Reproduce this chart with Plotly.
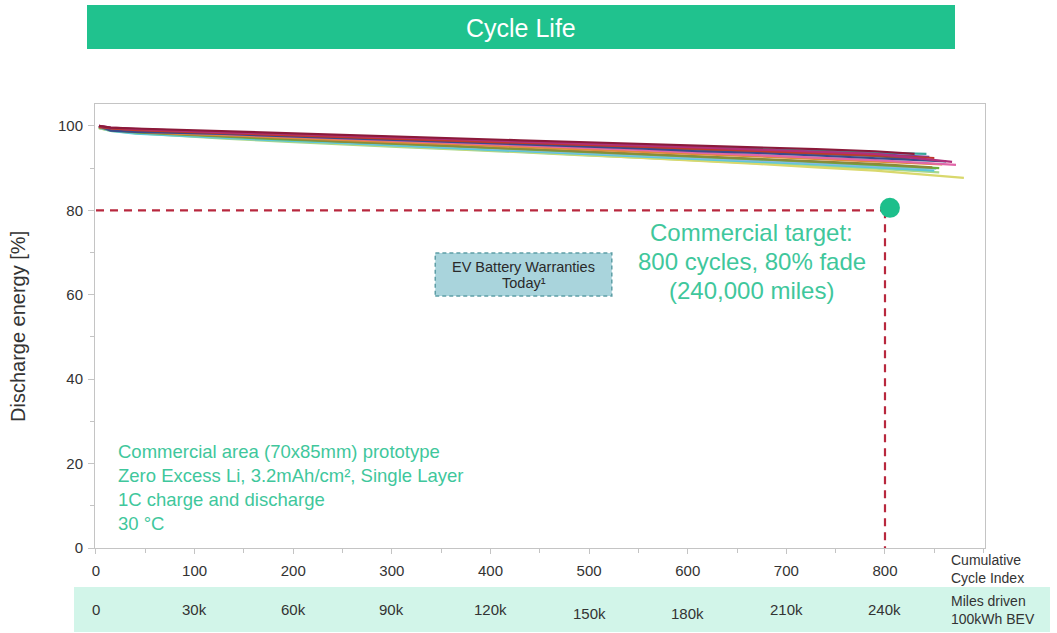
import plotly.graph_objects as go

# ---------------- data ----------------
cycle_grid = [3, 15, 40, 80, 130, 190, 250, 310, 370, 430, 490, 550, 610, 670, 730, 790]

cell_maroon = [100.0, 99.6, 99.4, 99.1, 98.8, 98.3, 97.9, 97.5, 97.0, 96.6, 96.2, 95.8, 95.3, 94.9, 94.5, 94.0, 93.4]
cell_purple = [100.0, 99.5, 99.2, 98.9, 98.5, 98.0, 97.6, 97.3, 96.7, 96.3, 95.8, 95.4, 94.9, 94.4, 93.9, 93.3, 92.7]
cell_navy = [100.0, 98.9, 98.6, 98.4, 98.1, 97.6, 97.1, 96.6, 96.2, 95.7, 95.2, 94.7, 94.0, 93.6, 93.0, 92.4, 91.6]
cell_red = [99.8, 99.4, 99.0, 98.7, 98.3, 97.8, 97.4, 96.9, 96.5, 96.1, 95.6, 95.1, 94.6, 94.1, 93.6, 93.1, 92.4]
cell_green = [99.7, 99.0, 98.5, 98.0, 97.5, 96.8, 96.3, 95.7, 95.1, 94.6, 94.0, 93.4, 92.7, 92.1, 91.5, 90.8, 90.0]
cell_cyan = [99.6, 98.8, 98.2, 97.7, 97.1, 96.5, 95.9, 95.2, 94.6, 94.0, 93.4, 92.8, 92.1, 91.5, 90.9, 90.2, 89.4]
cell_orange = [99.8, 99.2, 98.7, 98.2, 97.8, 97.2, 96.6, 96.1, 95.6, 95.0, 94.5, 93.9, 93.3, 92.8, 92.2, 91.6, 90.9]
cell_yellow = [99.5, 98.9, 98.4, 97.8, 97.2, 96.5, 95.8, 95.1, 94.5, 93.9, 93.2, 92.5, 91.8, 91.0, 90.2, 89.4, 87.7]
cell_pink = [99.9, 99.3, 98.9, 98.5, 98.0, 97.5, 97.0, 96.4, 95.9, 95.4, 94.9, 94.3, 93.7, 93.1, 92.5, 91.9, 90.8]
cell_teal = [99.9, 99.5, 99.2, 98.9, 98.5, 98.1, 97.6, 97.2, 96.7, 96.3, 95.9, 95.4, 95.0, 94.5, 94.1, 93.7, 93.4]
cell_olive = [99.7, 99.1, 98.6, 98.1, 97.6, 97.0, 96.3, 95.8, 95.2, 94.7, 94.1, 93.5, 92.9, 92.3, 91.7, 91.0, 90.2]
cell_lightblue = [99.6, 99.0, 98.5, 98.0, 97.4, 96.9, 96.3, 95.6, 95.0, 94.3, 93.7, 93.1, 92.4, 91.8, 91.2, 90.5, 89.9]
cell_gray = [99.8, 99.3, 98.9, 98.6, 98.2, 97.7, 97.3, 96.8, 96.3, 95.9, 95.4, 94.9, 94.4, 93.9, 93.4, 92.9, 92.3]
cell_brown = [99.9, 99.4, 99.1, 98.7, 98.3, 97.9, 97.4, 96.9, 96.5, 96.0, 95.5, 95.0, 94.5, 94.0, 93.5, 92.9, 92.2]
cell_magenta = [100.0, 99.6, 99.3, 98.9, 98.5, 98.1, 97.7, 97.2, 96.8, 96.3, 95.9, 95.4, 94.9, 94.4, 94.0, 93.4, 91.5]
cell_lightgreen = [99.5, 98.8, 98.3, 97.7, 97.0, 96.3, 95.6, 95.0, 94.4, 93.7, 93.1, 92.5, 91.8, 91.2, 90.5, 89.9, 89.0]

cell_names = ["lightgreen", "yellow", "cyan", "lightblue", "green", "olive", "orange", "gray",
              "teal", "pink", "brown", "navy", "purple", "red", "magenta", "maroon"]
cell_values = [cell_lightgreen, cell_yellow, cell_cyan, cell_lightblue, cell_green, cell_olive,
               cell_orange, cell_gray, cell_teal, cell_pink, cell_brown, cell_navy, cell_purple,
               cell_red, cell_magenta, cell_maroon]
end_cycles = [855, 880, 850, 852, 855, 848, 858, 836, 842, 872, 825, 862, 845, 850, 868, 830]
cell_colors = ["#A8D88A", "#D9D86C", "#5CC8D8", "#8AB8E0", "#6AAF3D", "#8A8A3A", "#E08A3C", "#8A8A8A",
               "#3AA59A", "#E066A8", "#8B5A3C", "#3A4A8C", "#7B3F9E", "#C0392B", "#B0307A", "#8B1A3A"]

target_cycles = 800
target_energy = 80

cycle_ticks = [0, 100, 200, 300, 400, 500, 600, 700, 800]
miles_labels = ["0", "30k", "60k", "90k", "120k", "150k", "180k", "210k", "240k"]

# ---------------- layout helpers ----------------
W, H = 1057, 633
PL, PR, PT, PB = 95, 72, 104, 85


def px_x(px):
    return (px - PL) / (W - PL - PR)


def px_y(py):
    return (H - PB - py) / (H - PT - PB)


FONT = "Liberation Sans, Arial, sans-serif"
GREEN_TXT = "#3FC79C"
DARK = "#333333"

fig = go.Figure()

for name, vals, endc, col in zip(cell_names, cell_values, end_cycles, cell_colors):
    fig.add_trace(go.Scatter(
        x=cycle_grid + [endc], y=vals, mode="lines", name=name,
        line=dict(color=col, width=2.2), showlegend=False, hoverinfo="skip"))

# dashed target lines
fig.add_trace(go.Scatter(x=[0, target_cycles], y=[target_energy, target_energy], mode="lines",
                         line=dict(color="#B8283E", width=2.2, dash="8px,6px"), showlegend=False))
fig.add_trace(go.Scatter(x=[target_cycles, target_cycles], y=[target_energy, 0], mode="lines",
                         line=dict(color="#B8283E", width=2.2, dash="8px,6px"), showlegend=False))
fig.add_trace(go.Scatter(x=[target_cycles + 5], y=[target_energy + 0.6], mode="markers",
                         marker=dict(color="#1DBF8B", size=20), showlegend=False))

shapes = [
    # title bar
    dict(type="rect", xref="paper", yref="paper", x0=px_x(87), x1=px_x(955), y0=px_y(49), y1=px_y(5),
         fillcolor="#20C28E", line=dict(width=0), layer="below"),
    # miles band
    dict(type="rect", xref="paper", yref="paper", x0=px_x(74), x1=px_x(1050), y0=px_y(632), y1=px_y(587),
         fillcolor="#D2F5E9", line=dict(width=0), layer="below"),
    # EV box
    dict(type="rect", xref="x", yref="y", x0=344, x1=523, y0=59.7, y1=69.9,
         fillcolor="#A9D4DC", line=dict(color="#5E9EA6", width=1.5, dash="4px,3px")),
]

annotations = [
    dict(text="Cycle Life", xref="paper", yref="paper", x=px_x(521), y=px_y(28), showarrow=False,
         font=dict(size=25, color="white", family=FONT), xanchor="center", yanchor="middle"),
    dict(text="Discharge energy [%]", xref="paper", yref="paper", x=px_x(18), y=px_y(327),
         showarrow=False, textangle=-90, font=dict(size=20, color=DARK, family=FONT),
         xanchor="center", yanchor="middle"),
    dict(text="EV Battery Warranties", xref="x", yref="paper", x=433.5, y=px_y(267), showarrow=False,
         font=dict(size=14.5, color="#2A2A2A", family=FONT), xanchor="center", yanchor="middle"),
    dict(text="Today¹", xref="x", yref="paper", x=433.5, y=px_y(283), showarrow=False,
         font=dict(size=14.5, color="#2A2A2A", family=FONT), xanchor="center", yanchor="middle"),
    dict(text="Cumulative", xref="paper", yref="paper", x=px_x(949), y=px_y(560),
         showarrow=False, font=dict(size=14, color=DARK, family=FONT), xanchor="left", yanchor="middle"),
    dict(text="Cycle Index", xref="paper", yref="paper", x=px_x(949), y=px_y(578),
         showarrow=False, font=dict(size=14, color=DARK, family=FONT), xanchor="left", yanchor="middle"),
    dict(text="Miles driven", xref="paper", yref="paper", x=px_x(949), y=px_y(601),
         showarrow=False, font=dict(size=14, color=DARK, family=FONT), xanchor="left", yanchor="middle"),
    dict(text="100kWh BEV", xref="paper", yref="paper", x=px_x(949), y=px_y(619),
         showarrow=False, font=dict(size=14, color=DARK, family=FONT), xanchor="left", yanchor="middle"),
]

for i, line in enumerate(["Commercial target:", "800 cycles, 80% fade", "(240,000 miles)"]):
    annotations.append(dict(text=line, xref="x", yref="paper", x=665, y=px_y(232 + 29 * i),
                            showarrow=False, font=dict(size=24, color=GREEN_TXT, family=FONT),
                            xanchor="center", yanchor="middle"))

for i, line in enumerate(["Commercial area (70x85mm) prototype",
                          "Zero Excess Li, 3.2mAh/cm², Single Layer",
                          "1C charge and discharge",
                          "30 °C"]):
    annotations.append(dict(text=line, xref="paper", yref="paper", x=px_x(116), y=px_y(451 + 24 * i),
                            showarrow=False, font=dict(size=18.5, color=GREEN_TXT, family=FONT),
                            xanchor="left", yanchor="middle"))

for c, lab in zip(cycle_ticks, miles_labels):
    label_y = 613 if lab in ("150k", "180k") else 609
    annotations.append(dict(text=lab, xref="x", yref="paper", x=c, y=px_y(label_y), showarrow=False,
                            font=dict(size=15, color=DARK, family=FONT),
                            xanchor="center", yanchor="middle"))

fig.update_layout(
    width=W, height=H,
    margin=dict(l=PL, r=PR, t=PT, b=PB),
    paper_bgcolor="white", plot_bgcolor="white",
    font=dict(family=FONT, color=DARK),
    shapes=shapes, annotations=annotations,
    xaxis=dict(range=[-1, 901.4], tickvals=cycle_ticks, ticktext=[str(v) for v in cycle_ticks],
               showgrid=False, zeroline=False, showline=True, linecolor="#C4C4C4", linewidth=1,
               mirror=True, ticks="outside", ticklen=5, tickcolor="#C4C4C4",
               minor=dict(ticks="outside", dtick=50, ticklen=4, tickcolor="#C4C4C4"),
               tickfont=dict(size=15, color=DARK), ticklabelstandoff=4),
    yaxis=dict(range=[0, 105.2], tickvals=[0, 20, 40, 60, 80, 100], showgrid=False, zeroline=False,
               showline=True, linecolor="#C4C4C4", linewidth=1, mirror=True, ticks="outside",
               ticklen=6, tickcolor="#C4C4C4",
               minor=dict(ticks="outside", dtick=10, ticklen=4, tickcolor="#C4C4C4"),
               tickfont=dict(size=15, color=DARK), ticklabelstandoff=2),
)

fig.write_html("out.html")
